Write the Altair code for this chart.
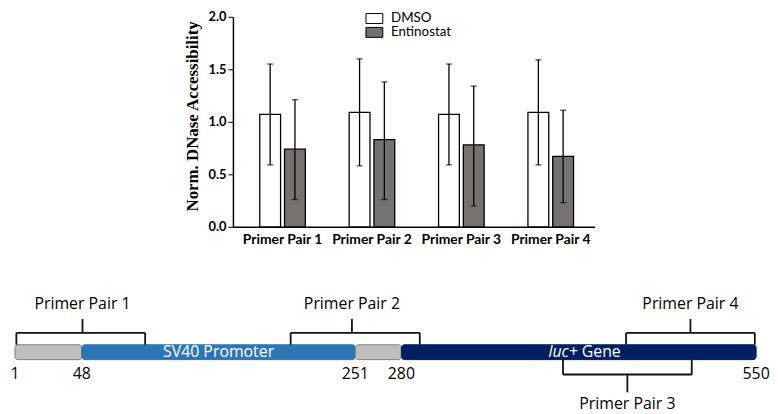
import altair as alt
import pandas as pd

# ---------------- data: bar chart ----------------
pairs = ["Primer Pair 1", "Primer Pair 2", "Primer Pair 3", "Primer Pair 4"]
treatments = ["DMSO", "Entinostat"]
dmso_mean = [1.07, 1.09, 1.07, 1.09]
dmso_lo = [0.59, 0.58, 0.59, 0.59]
dmso_hi = [1.55, 1.60, 1.55, 1.59]
ent_mean = [0.74, 0.83, 0.78, 0.67]
ent_lo = [0.26, 0.26, 0.20, 0.23]
ent_hi = [1.21, 1.38, 1.34, 1.11]
y_ticks = [0, 0.5, 1.0, 1.5, 2.0]

# ---------------- data: construct diagram ----------------
seg_start = [1, 48, 251, 280]
seg_end = [48, 251, 280, 550]
seg_fill = ["#bfbfbf", "#2e75b6", "#bfbfbf", "#002060"]
seg_stroke = ["#808080", "#2e75b6", "#808080", "#002060"]
seg_plain_label = ["", "SV40 Promoter", "", "Gene"]
seg_italic_label = ["", "", "", "luc+"]
pos_ticks = [1, 48, 251, 280, 550]
bracket_start = [2, 203, 403, 451]
bracket_end = [95, 294, 501, 549]
bracket_side = ["above", "above", "below", "above"]

# ---------------- bar chart ----------------
bars_df = pd.DataFrame({
    "pair": pairs * 2,
    "treatment": ["DMSO"] * 4 + ["Entinostat"] * 4,
    "mean": dmso_mean + ent_mean,
    "lo": dmso_lo + ent_lo,
    "hi": dmso_hi + ent_hi,
})

x_enc = alt.X(
    "pair:N", sort=pairs, title=None,
    scale=alt.Scale(paddingInner=0.49, paddingOuter=0.268, align=0.56),
    axis=alt.Axis(labelAngle=0, ticks=False, domainColor="black", domainWidth=1.5,
                  labelFont="Lato", labelFontWeight="bold", labelFontSize=14,
                  labelColor="black", labelPadding=6),
)
xo_enc = alt.XOffset("treatment:N", sort=treatments,
                     scale=alt.Scale(paddingInner=0.16, paddingOuter=0))
y_scale = alt.Scale(domain=[0, 2], nice=False)
Y_TITLE = "Norm. DNase Accessibility"
y_axis = alt.Axis(values=y_ticks, format=".1f", grid=False,
                  titleFont="Liberation Serif", titleFontSize=17,
                  titleFontWeight="bold", titleColor="black", titlePadding=7,
                  titleY=100, titleAlign="center",
                  labelFont="Lato", labelFontWeight="bold", labelFontSize=13,
                  labelColor="black", domainColor="black", domainWidth=1.5,
                  tickColor="black", tickSize=5, tickWidth=1, labelPadding=2)

base = alt.Chart(bars_df)
bars = base.mark_bar(stroke="black", strokeWidth=1.3).encode(
    x=x_enc, xOffset=xo_enc,
    y=alt.Y("mean:Q", scale=y_scale, axis=y_axis, title=Y_TITLE),
    fill=alt.Fill("treatment:N", sort=treatments,
                  scale=alt.Scale(domain=treatments, range=["white", "#767171"]),
                  legend=alt.Legend(orient="none", legendX=363, legendY=-5, title=None,
                                    symbolType="M-1.7,-1H1.7V1H-1.7Z", symbolSize=100,
                                    symbolStrokeColor="black", symbolStrokeWidth=1,
                                    labelFont="Lato", labelFontSize=13.5, labelColor="black",
                                    labelOffset=10, rowPadding=-10)),
)
err = base.mark_rule(color="black", strokeWidth=1.3).encode(
    x=x_enc, xOffset=xo_enc,
    y=alt.Y("lo:Q", scale=y_scale, axis=y_axis, title=Y_TITLE), y2="hi:Q",
)
cap_hi = base.mark_tick(color="black", size=6, thickness=1.3, orient="horizontal").encode(
    x=x_enc, xOffset=xo_enc, y=alt.Y("hi:Q", scale=y_scale, axis=y_axis, title=Y_TITLE),
)
cap_lo = base.mark_tick(color="black", size=6, thickness=1.3, orient="horizontal").encode(
    x=x_enc, xOffset=xo_enc, y=alt.Y("lo:Q", scale=y_scale, axis=y_axis, title=Y_TITLE),
)
bar_chart = alt.layer(bars, err, cap_hi, cap_lo).properties(width=365, height=212)

spacer = alt.Chart(pd.DataFrame({"a": [0]})).mark_text(text="").encode(
    x=alt.value(0), y=alt.value(0)
).properties(width=176, height=10)

top_row = alt.hconcat(spacer, bar_chart, spacing=0)

# ---------------- diagram ----------------
seg_df = pd.DataFrame({
    "start": seg_start, "end": seg_end, "fill": seg_fill, "stroke": seg_stroke,
    "plain": seg_plain_label, "italic": seg_italic_label,
})
seg_df["mid"] = (seg_df["start"] + seg_df["end"]) / 2
pos_df = pd.DataFrame({"pos": pos_ticks})
br_df = pd.DataFrame({"name": pairs, "start": bracket_start, "end": bracket_end,
                      "side": bracket_side})
br_df["mid"] = (br_df["start"] + br_df["end"]) / 2

# the construct drawing is not to scale: piecewise-linear position scale
dx_scale = alt.Scale(domain=pos_ticks, range=[7, 74.5, 350.5, 397, 755],
                     nice=False, zero=False)
BAR_TOP, BAR_BOT = 53, 68
ABOVE_LVL, ABOVE_TICK, ABOVE_TXT = 41, 27, 12
BELOW_LVL, BELOW_TICK, BELOW_TXT = 83, 101, 113
NUM_Y = 83
br_color = "#111111"
br_w = 1.8
FONT = "Open Sans"
FS = 16

segs = alt.Chart(seg_df).mark_bar(cornerRadius=3, strokeWidth=1).encode(
    x=alt.X("start:Q", scale=dx_scale, axis=None), x2="end:Q",
    y=alt.value(BAR_TOP), y2=alt.value(BAR_BOT),
    fill=alt.Fill("fill:N", scale=None), stroke=alt.Stroke("stroke:N", scale=None),
)
MID_Y = (BAR_TOP + BAR_BOT) / 2
sv40 = alt.Chart(seg_df).transform_filter("datum.plain == 'SV40 Promoter'").mark_text(
    font=FONT, fontSize=FS, color="white", baseline="middle"
).encode(x=alt.X("mid:Q", scale=dx_scale, axis=None), y=alt.value(MID_Y), text="plain:N")
luc = alt.Chart(seg_df).transform_filter("datum.italic != ''").mark_text(
    font=FONT, fontSize=FS, color="white", baseline="middle", align="right",
    fontStyle="italic", dx=-1
).encode(x=alt.X("mid:Q", scale=dx_scale, axis=None), y=alt.value(MID_Y), text="italic:N")
gene = alt.Chart(seg_df).transform_filter("datum.italic != ''").mark_text(
    font=FONT, fontSize=FS, color="white", baseline="middle", align="left", dx=3
).encode(x=alt.X("mid:Q", scale=dx_scale, axis=None), y=alt.value(MID_Y), text="plain:N")

pos_txt = alt.Chart(pos_df).mark_text(baseline="middle", font=FONT, fontSize=FS,
                                      color="black").encode(
    x=alt.X("pos:Q", scale=dx_scale, axis=None), y=alt.value(NUM_Y), text="pos:Q"
)


def bracket_layers(side, lvl, bar_edge, tick_end, txt_y):
    b = alt.Chart(br_df).transform_filter(f"datum.side == '{side}'")
    horiz = b.mark_rule(color=br_color, strokeWidth=br_w).encode(
        x=alt.X("start:Q", scale=dx_scale, axis=None), x2="end:Q", y=alt.value(lvl))
    legs = b.transform_fold(["start", "end"], as_=["k", "v"]).mark_rule(
        color=br_color, strokeWidth=br_w).encode(
        x=alt.X("v:Q", scale=dx_scale, axis=None), y=alt.value(lvl), y2=alt.value(bar_edge))
    tick = b.mark_rule(color=br_color, strokeWidth=br_w).encode(
        x=alt.X("mid:Q", scale=dx_scale, axis=None), y=alt.value(lvl), y2=alt.value(tick_end))
    label = b.mark_text(baseline="middle", font=FONT, fontSize=FS, color="black").encode(
        x=alt.X("mid:Q", scale=dx_scale, axis=None), y=alt.value(txt_y), text="name:N")
    return [horiz, legs, tick, label]


diagram = alt.layer(
    segs, sv40, luc, gene, pos_txt,
    *bracket_layers("above", ABOVE_LVL, BAR_TOP, ABOVE_TICK, ABOVE_TXT),
    *bracket_layers("below", BELOW_LVL, BAR_BOT, BELOW_TICK, BELOW_TXT),
).properties(width=762, height=116)

chart = alt.vconcat(top_row, diagram, spacing=46).properties(
    padding={"left": 0, "top": 1, "right": 0, "bottom": 0}
).configure_view(stroke=None)

chart.save("out.html", embed_options={"renderer": "svg", "actions": False})
